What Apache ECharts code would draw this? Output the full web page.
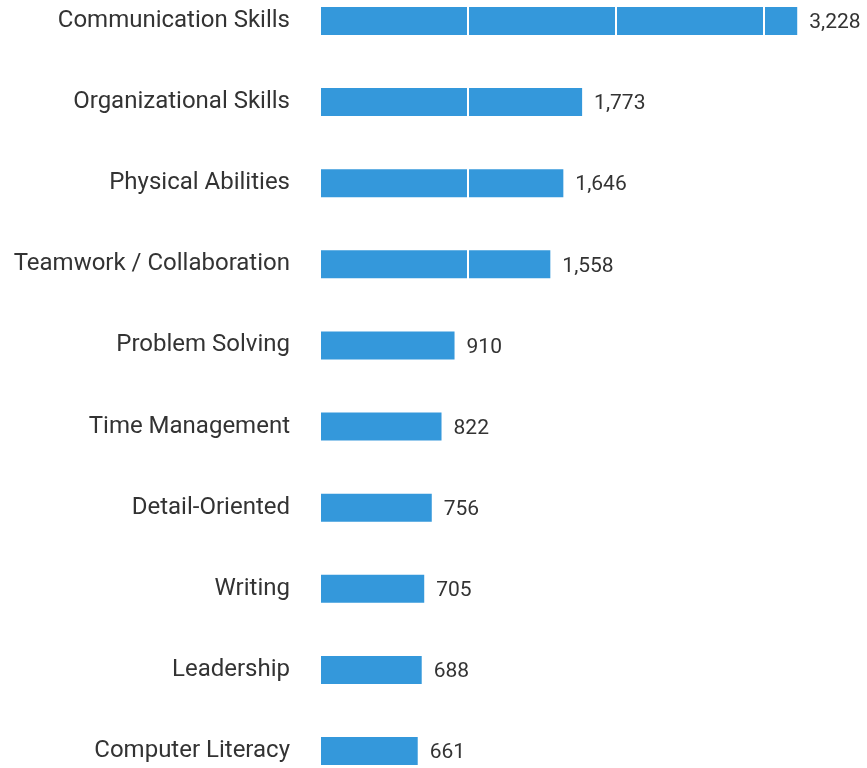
<!DOCTYPE html>
<html><head><meta charset="utf-8">
<script src="https://cdn.jsdelivr.net/npm/echarts@6/dist/echarts.min.js"></script>
<style>html,body{margin:0;padding:0;background:#fff}#c{width:867px;height:768px}</style>
</head><body><div id="c"></div>
<script>
const categories = ["Communication Skills","Organizational Skills","Physical Abilities","Teamwork / Collaboration","Problem Solving","Time Management","Detail-Oriented","Writing","Leadership","Computer Literacy"];
const values = [3228,1773,1646,1558,910,822,756,705,688,661];
const chart = echarts.init(document.getElementById('c'));
chart.setOption({
  animation:false,
  grid:[
    {left:320,top:21,height:730,right:0,containLabel:false},
    {left:320,top:0,bottom:0,right:0,containLabel:false}
  ],
  xAxis:[
    {type:'value',gridIndex:0,min:0,max:3700,interval:1000,
      axisLabel:{show:false},axisLine:{show:false},axisTick:{show:false},splitLine:{show:false}},
    {type:'value',gridIndex:1,min:0,max:3700,interval:1000,z:10,
      axisLabel:{show:false},axisLine:{show:false},axisTick:{show:false},
      splitLine:{show:true,lineStyle:{color:'#ffffff',width:2}}}
  ],
  yAxis:[
    {type:'category',gridIndex:0,data:categories,inverse:true,boundaryGap:false,
      axisLine:{show:false},axisTick:{show:false},splitLine:{show:false},
      axisLabel:{margin:30,color:'#333',fontFamily:'Roboto',fontSize:24,padding:[2,0,0,0]}},
    {type:'value',gridIndex:1,min:0,max:1,show:false,splitLine:{show:false}}
  ],
  series:[
    {type:'bar',xAxisIndex:0,yAxisIndex:0,data:values,barWidth:28,z:2,
      itemStyle:{color:'#3498db'}},
    {type:'bar',xAxisIndex:0,yAxisIndex:0,data:values,barWidth:28,barGap:'-100%',z:20,silent:true,
      itemStyle:{color:'rgba(0,0,0,0)'},
      label:{show:true,position:'right',distance:12,offset:[0,2],color:'#333',fontFamily:'Roboto',fontSize:21,
        formatter:p=>p.value.toLocaleString('en-US')}}
  ]
});
</script></body></html>
